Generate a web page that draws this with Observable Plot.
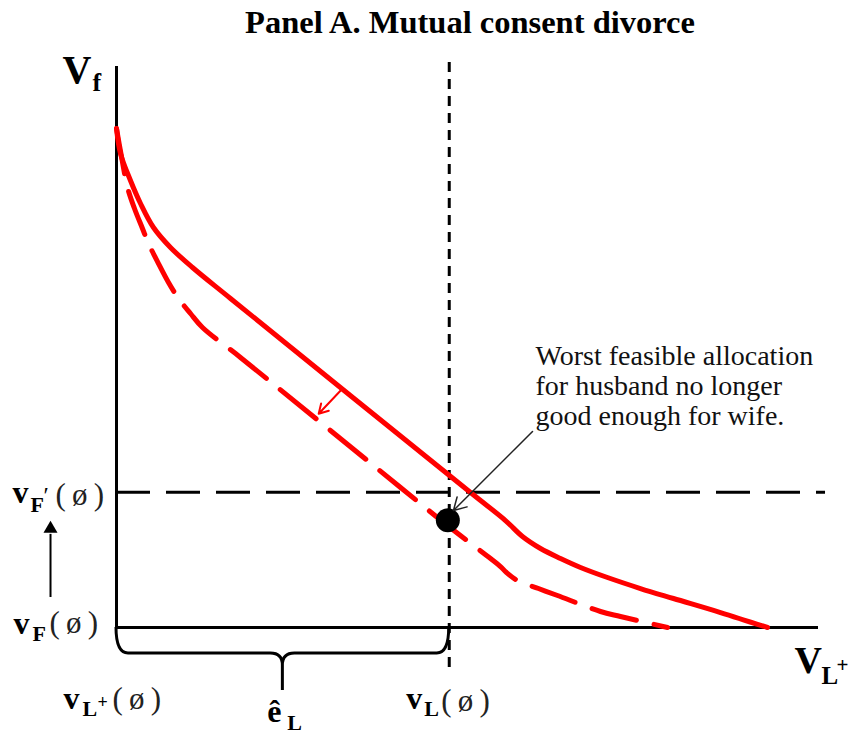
<!DOCTYPE html>
<html><head><meta charset="utf-8">
<script src="https://cdn.jsdelivr.net/npm/d3@7"></script>
<script src="https://cdn.jsdelivr.net/npm/@observablehq/plot@0.6"></script>
<style>
body{margin:0;background:#fff;width:853px;}
#title{height:42px;box-sizing:border-box;padding-top:3px;padding-left:87px;text-align:center;font:bold 32.5px/38px "Liberation Serif", "Times New Roman", serif;color:#000;white-space:nowrap;}
#chart svg{display:block}
</style></head><body>
<div id="title"></div><div id="chart"></div>
<script>
// ---------- data (abstract utility units, origin at the axes' corner) ----------
const title = "Panel A. Mutual consent divorce";

// Utility-possibility frontier before the change (solid)
const solidX = [0, 0.57, 1.99, 3.42, 5.27, 7.69, 10.83, 16.24, 50.43, 55.41, 57.83, 60.40, 63.25, 66.10, 69.94, 74.64, 79.34, 86.04, 92.74];
const solidY = [88.95, 84.49, 79.68, 75.58, 71.30, 67.74, 64.17, 58.65, 24.06, 19.07, 16.22, 14.08, 12.30, 10.70, 8.91, 6.95, 5.17, 2.67, 0];

// Frontier after the change (dashed)
const dashedX = [0, 0.71, 1.57, 2.56, 3.70, 4.56, 5.98, 7.41, 8.83, 10.54, 12.25, 17.66, 40.46, 47.15, 53.28, 54.70, 55.56, 57.12, 60.11, 62.82, 68.95, 71.79, 78.49];
const dashedY = [88.95, 83.96, 78.43, 74.69, 71.12, 68.45, 64.88, 61.50, 58.65, 55.97, 53.48, 48.13, 24.96, 18.18, 12.30, 10.87, 9.80, 8.38, 6.95, 5.70, 2.85, 1.96, 0];

// Threat points / reference levels
const vF0 = 0;      // v_F(ø)
const vF1 = 24.1;   // v_F'(ø)
const vLplus0 = 0;  // v_L+(ø)
const vL0 = 47.4;   // v_L(ø)
const hLineEnd = 101;
const vLineTop = 100.7, vLineBottom = -7.3;

// Worst feasible allocation for husband
const worstX = [47.2];
const worstY = [19.1];

// Shift arrow between frontiers
const shiftArrowX = [31.9, 28.8];
const shiftArrowY = [42.2, 38.1];

// Annotation arrow and note
const noteArrowX = [59.26, 48.0];
const noteArrowY = [34.94, 20.86];
const noteLines = ["Worst feasible allocation", "for husband no longer", "good enough for wife."];
const noteAnchor = [59.69, 50.6];

// Upward arrow v_F(ø) -> v_F'(ø)
const upArrowX = -9.4;
const upArrowY = [5.35, 17.6];

// Axis labels (text pieces)
const yAxisLabel = ["V", "f"];
const xAxisLabel = ["V", "L", "+"];
const emptySet = "(\u2009ø\u2009)";
const lblVF1 = ["v", "F", "′", emptySet];
const lblVF0 = ["v", "F", emptySet];
const lblVLp = ["v", "L", "+", emptySet];
const lblVL = ["v", "L", emptySet];
const lblE = ["ê", "L"];

// ---------- build ----------
document.getElementById("title").textContent = title;

const solid = solidX.map((x, i) => ({x, y: solidY[i]}));
const dashed = dashedX.map((x, i) => ({x, y: dashedY[i]}));

const serif = "Liberation Serif, Times New Roman, serif";

function piece(x, y, t, dx, dy, fs, fw = "bold", fill = "#000") {
  return Plot.text([{x, y}], {x: "x", y: "y", text: () => t, dx, dy, fontSize: fs, fontWeight: fw,
    textAnchor: "start", lineAnchor: "bottom", fill, fontFamily: serif});
}

// brace under the x axis spanning [vLplus0, vL0], drawn through the plot's scales
function brace(index, scales, values, dimensions) {
  const {marginLeft, marginRight, marginTop, marginBottom, width, height} = dimensions;
  const sx = typeof scales.x === "function" ? scales.x : (v) => marginLeft + (v / 100) * (width - marginLeft - marginRight);
  const sy = typeof scales.y === "function" ? scales.y : (v) => height - marginBottom - (v / 100) * (height - marginTop - marginBottom);
  const x0 = sx(vLplus0), x1 = sx(vL0), y0 = sy(0);
  const mid = (x0 + x1) / 2;
  const yb = y0 + 26, tip = y0 + 63, r = 12;
  const p = d3.path();
  p.moveTo(x0, y0); p.quadraticCurveTo(x0, yb, x0 + r, yb);
  p.lineTo(mid - r, yb); p.quadraticCurveTo(mid, yb, mid, yb + r);
  p.lineTo(mid, tip);
  p.moveTo(mid, yb + r); p.quadraticCurveTo(mid, yb, mid + r, yb);
  p.lineTo(x1 - r, yb); p.quadraticCurveTo(x1, yb, x1, y0);
  const g = d3.create("svg:path").attr("d", p.toString()).attr("fill", "none")
    .attr("stroke", "#000").attr("stroke-width", 3);
  return g.node();
}

const marks = [
  // reference lines
  Plot.ruleY([vF1], {x1: 0, x2: hLineEnd, stroke: "#000", strokeWidth: 3, strokeDasharray: "34,16"}),
  Plot.ruleX([vL0], {y1: vLineTop, y2: vLineBottom, stroke: "#000", strokeWidth: 3, strokeDasharray: "10,7"}),
  // axes
  Plot.ruleY([0], {stroke: "#000", strokeWidth: 3}),
  Plot.ruleX([0], {stroke: "#000", strokeWidth: 3}),
  brace,
  // frontiers
  Plot.line(dashed, {x: "x", y: "y", stroke: "red", strokeWidth: 5, strokeDasharray: "46,18", curve: "catmull-rom"}),
  Plot.line(solid, {x: "x", y: "y", stroke: "red", strokeWidth: 5, curve: "catmull-rom"}),
  // shift arrow
  Plot.arrow([0], {x1: shiftArrowX[0], y1: shiftArrowY[0], x2: shiftArrowX[1], y2: shiftArrowY[1], stroke: "red", strokeWidth: 2, headLength: 13}),
  // worst allocation
  Plot.dot(worstX.map((x, i) => ({x, y: worstY[i]})), {x: "x", y: "y", r: 12, fill: "#000", stroke: "none"}),
  Plot.arrow([0], {x1: noteArrowX[0], y1: noteArrowY[0], x2: noteArrowX[1], y2: noteArrowY[1], stroke: "#222", strokeWidth: 1.5, headLength: 14}),
  Plot.text([{x: noteAnchor[0], y: noteAnchor[1]}], {x: "x", y: "y", text: () => noteLines.join("\n"), textAnchor: "start",
    lineAnchor: "top", lineHeight: 1.071, fontSize: 28, fill: "#111", fontFamily: serif}),
  // upward arrow
  Plot.ruleX([upArrowX], {y1: upArrowY[0], y2: upArrowY[1] - 1, stroke: "#000", strokeWidth: 2}),
  Plot.dot([{x: upArrowX, y: upArrowY[1]}], {x: "x", y: "y", symbol: "triangle", r: 5.2, fill: "#000", stroke: "none"}),
  // y axis label V_f (anchored at top of y axis)
  piece(0, 100, yAxisLabel[0], -54, 16, 40),
  piece(0, 100, yAxisLabel[1], -24, 24, 26),
  // x axis label V_L+ (anchored at end of x axis)
  piece(100, 0, xAxisLabel[0], -24, 45, 38),
  piece(100, 0, xAxisLabel[1], 3, 56, 25),
  piece(100, 0, xAxisLabel[2], 18, 44, 21),
  // v_F'(ø)
  piece(0, vF1, lblVF1[0], -104, 11, 32),
  piece(0, vF1, lblVF1[1], -86, 20, 22),
  piece(0, vF1, lblVF1[2], -73, 11, 24, "normal"),
  piece(0, vF1, lblVF1[3], -61, 13, 31, "normal", "#222"),
  // v_F(ø)
  piece(0, vF0, lblVF0[0], -103, 6, 32),
  piece(0, vF0, lblVF0[1], -84, 13, 22),
  piece(0, vF0, lblVF0[2], -67, 5, 31, "normal", "#222"),
  // v_L+(ø)
  piece(vLplus0, 0, lblVLp[0], -53, 81, 32),
  piece(vLplus0, 0, lblVLp[1], -34, 88, 22),
  piece(vLplus0, 0, lblVLp[2], -19, 80, 18),
  piece(vLplus0, 0, lblVLp[3], -4, 81, 31, "normal", "#222"),
  // v_L(ø)
  piece(vL0, 0, lblVL[0], -43, 81, 32),
  piece(vL0, 0, lblVL[1], -25, 88, 22),
  piece(vL0, 0, lblVL[2], -8, 83, 31, "normal", "#222"),
  // ê_L
  piece(vL0 / 2, 0, lblE[0], -15.5, 94, 32),
  piece(vL0 / 2, 0, lblE[1], 4.5, 102, 22)
];

const chart = Plot.plot({
  width: 853, height: 692,
  marginLeft: 116, marginRight: 35, marginTop: 24, marginBottom: 107,
  x: {domain: [0, 100], axis: null},
  y: {domain: [0, 100], axis: null},
  style: {fontFamily: serif, background: "white", overflow: "visible"},
  marks
});
document.getElementById("chart").appendChild(chart);
</script></body></html>
